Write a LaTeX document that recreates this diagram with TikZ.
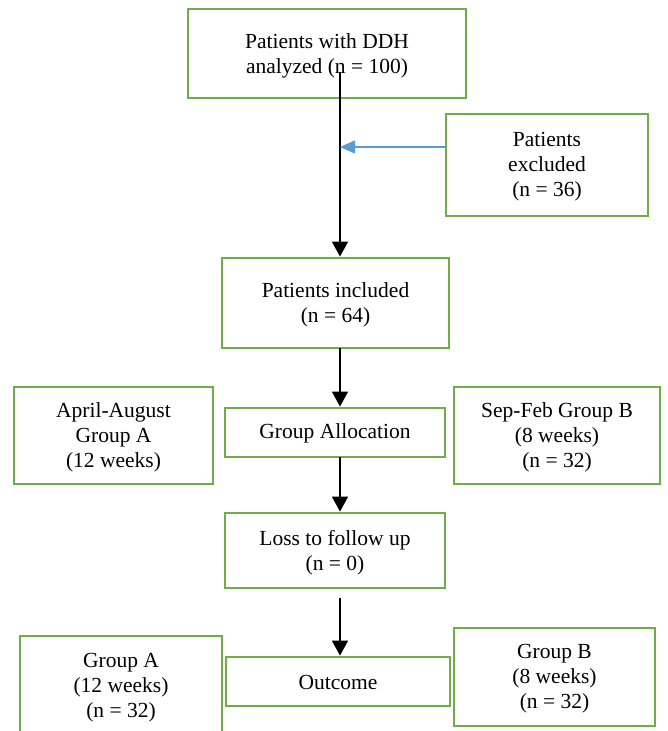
\documentclass[tikz,border=0pt]{standalone}
\usepackage{fontspec}
\setmainfont{Liberation Serif}
\usetikzlibrary{arrows.meta}
\definecolor{boxgreen}{HTML}{70AD47}
\definecolor{arrblue}{HTML}{5B9BD5}
\begin{document}
\begin{tikzpicture}[x=1pt,y=-1pt,
  box/.style={draw=boxgreen,line width=2.8pt,fill=white,inner sep=0pt},
  txt/.style={align=center,inner sep=0pt,font=\fontsize{21.5}{25}\selectfont},
  arr/.style={draw=black,line width=1.3pt,-{Triangle[length=15pt,width=16pt]}},
  barr/.style={draw=arrblue,line width=1.3pt,-{Triangle[length=15pt,width=13pt]}}]
\useasboundingbox (0,0) rectangle (667,731);
\node[box,minimum width=278pt,minimum height=89pt] (top) at (327,53.5) {};
\node[box,minimum width=202pt,minimum height=102pt] (excl) at (547,165) {};
\node[box,minimum width=227pt,minimum height=90pt] (incl) at (335.5,303) {};
\node[box,minimum width=220pt,minimum height=49pt] (alloc) at (335,432.5) {};
\node[box,minimum width=199pt,minimum height=97pt] (apr) at (113.5,435.5) {};
\node[box,minimum width=206pt,minimum height=97pt] (sep) at (557,435.5) {};
\node[box,minimum width=220pt,minimum height=75pt] (loss) at (335,550.5) {};
\node[box,minimum width=224pt,minimum height=49pt] (out) at (338,681.5) {};
\node[box,minimum width=202pt,minimum height=100pt] (ga) at (121,686) {};
\node[box,minimum width=201pt,minimum height=98pt] (gb) at (554.5,677) {};
\node[txt] (topT) at ([yshift=-2pt]top.center) {Patients with DDH\\analyzed (n = 100)};
\node[txt] (exclT) at ([yshift=-2pt]excl.center) {Patients\\excluded\\(n = 36)};
\node[txt] (inclT) at ([yshift=-2pt]incl.center) {Patients included\\(n = 64)};
\node[txt] (allocT) at ([yshift=-1pt]alloc.center) {Group Allocation};
\node[txt] (aprT) at ([yshift=-2pt]apr.center) {April-August\\Group A\\(12 weeks)};
\node[txt] (sepT) at ([yshift=-2pt]sep.center) {Sep-Feb Group B\\(8 weeks)\\(n = 32)};
\node[txt] (lossT) at ([yshift=-2pt]loss.center) {Loss to follow up\\(n = 0)};
\node[txt] (outT) at ([yshift=-1pt]out.center) {Outcome};
\node[txt] (gaT) at ([yshift=-2pt]ga.center) {Group A\\(12 weeks)\\(n = 32)};
\node[txt] (gbT) at ([yshift=-2pt]gb.center) {Group B\\(8 weeks)\\(n = 32)};
\coordinate (s1) at (340,72);
\coordinate (bj) at (340,147);
\coordinate (s2) at (340,348);
\coordinate (s3) at (340,457);
\coordinate (s4) at (340,598);
\draw[arr] (s1) -- (s1 |- incl.north);
\draw[barr] (excl.west |- bj) -- (bj);
\draw[arr] (s2) -- (s2 |- alloc.north);
\draw[arr] (s3) -- (s3 |- loss.north);
\draw[arr] (s4) -- (s4 |- out.north);
\end{tikzpicture}
\end{document}
